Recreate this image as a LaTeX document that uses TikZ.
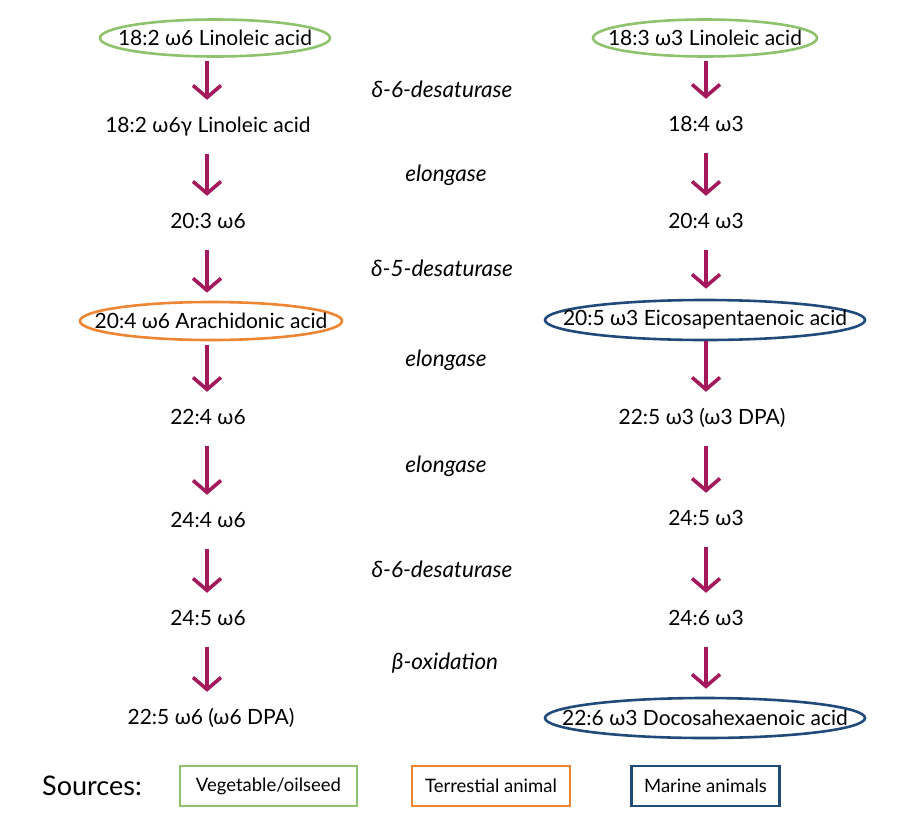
\documentclass[tikz,border=0pt]{standalone}
\usepackage{fontspec}
\setmainfont{Lato}
\usetikzlibrary{arrows.meta,shapes.geometric}
\definecolor{arrc}{HTML}{A3195B}
\definecolor{vegc}{HTML}{8EC26C}
\definecolor{terc}{HTML}{EE8532}
\definecolor{marc}{HTML}{1F4A7A}
\newcommand{\zw}[1]{\makebox[0pt]{#1}}
\tikzset{
  acid/.style={font=\fontsize{21}{24}\selectfont, text height=15pt, text depth=5pt, inner xsep=0pt, inner ysep=17pt},
  src/.style={ellipse, draw=#1, line width=2.6pt, inner sep=0pt, font=\fontsize{21}{24}\selectfont},
  enz/.style={font=\fontsize{22.5}{26}\selectfont\itshape},
  arr/.style={draw=arrc, line width=3.6pt, -{Straight Barb[length=12pt,width=28pt,line width=3.6pt]}},
  legbox/.style={draw=#1, line width=2.6pt, minimum height=40pt, inner sep=0pt, font=\fontsize{18.5}{21}\selectfont},
}
\begin{document}
\begin{tikzpicture}[x=1pt,y=-1pt]
\useasboundingbox (0,0) rectangle (907,830);
% axes for arrows
\coordinate (lx) at (207,0);
\coordinate (rx) at (706,0);
% left column
\node[src=vegc, minimum width=230pt, minimum height=37pt] (L1) at (215,38) {\zw{18:2 ω6 Linoleic acid}};
\node[acid] (L2) at (208,127) {18:2 ω6γ Linoleic acid};
\node[acid] (L3) at (208,223) {20:3 ω6};
\node[src=terc, minimum width=262pt, minimum height=38pt] (L4) at (211,321) {\zw{20:4 ω6 Arachidonic acid}};
\node[acid] (L5) at (208,419) {22:4 ω6};
\node[acid] (L6) at (208,522) {24:4 ω6};
\node[acid] (L7) at (208,620) {24:5 ω6};
\node[acid] (L8) at (211,719) {22:5 ω6 (ω6 DPA)};
% right column
\node[src=vegc, minimum width=224pt, minimum height=37pt] (R1) at (705,38) {\zw{18:3 ω3 Linoleic acid}};
\node[acid] (R2) at (706,126) {18:4 ω3};
\node[acid] (R3) at (706,223) {20:4 ω3};
\node[src=marc, minimum width=320pt, minimum height=40pt] (R4) at (705,320) {\zw{20:5 ω3 Eicosapentaenoic acid}};
\node[acid] (R5) at (702,419) {22:5 ω3 (ω3 DPA)};
\node[acid] (R6) at (706,520) {24:5 ω3};
\node[acid] (R7) at (706,620) {24:6 ω3};
\node[src=marc, minimum width=320pt, minimum height=40pt] (R8) at (705,718) {\zw{22:6 ω3 Docosahexaenoic acid}};
% enzymes
\node[enz] (E1) at (442,89) {δ-6-desaturase};
\node[enz] (E2) at (446,175) {elongase};
\node[enz] (E3) at (442,268) {δ-5-desaturase};
\node[enz] (E4) at (446,360) {elongase};
\node[enz] (E5) at (446,466) {elongase};
\node[enz] (E6) at (442,569) {δ-6-desaturase};
\node[enz] (E7) at (445,663) {β-oxidation};
% arrows left
\draw[arr, shorten <=3pt] (L1.south -| lx) -- (L2.north -| lx);
\draw[arr] (L2.south -| lx) -- (L3.north -| lx);
\draw[arr, shorten >=8pt] (L3.south -| lx) -- (L4.north -| lx);
\draw[arr, shorten <=4pt] (L4.south -| lx) -- (L5.north -| lx);
\draw[arr] (L5.south -| lx) -- (L6.north -| lx);
\draw[arr] (L6.south -| lx) -- (L7.north -| lx);
\draw[arr] (L7.south -| lx) -- (L8.north -| lx);
% arrows right
\draw[arr, shorten <=3pt] (R1.south -| rx) -- (R2.north -| rx);
\draw[arr] (R2.south -| rx) -- (R3.north -| rx);
\draw[arr, shorten >=10pt] (R3.south -| rx) -- (R4.north -| rx);
\draw[arr] (R4.south -| rx) -- (R5.north -| rx);
\draw[arr] (R5.south -| rx) -- (R6.north -| rx);
\draw[arr] (R6.south -| rx) -- (R7.north -| rx);
\draw[arr, shorten >=8pt] (R7.south -| rx) -- (R8.north -| rx);
% legend
\node[font=\fontsize{27}{30}\selectfont] (S) at (92,786) {Sources:};
\node[legbox=vegc, minimum width=177pt] (B1) at (268.5,786) {Vegetable/oilseed};
\node[legbox=terc, minimum width=158pt] (B2) at (491,786) {Terrestial animal};
\node[legbox=marc, minimum width=148pt] (B3) at (705.5,786) {Marine animals};
\end{tikzpicture}
\end{document}
